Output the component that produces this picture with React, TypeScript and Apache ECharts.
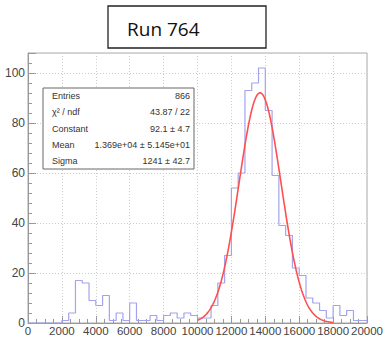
import React, { useEffect, useRef } from "react";
import * as echarts from "echarts";

const binWidth = 400;
const binStart = 0;
const counts = [
  0, 0, 0, 0, 0, 1, 4, 17, 16, 9,
  7, 11, 1, 4, 1, 8, 1, 1, 3, 1,
  3, 4, 2, 4, 3, 2, 2, 7, 16, 27,
  54, 60, 93, 96, 102, 85, 59, 39, 35, 22,
  19, 10, 8, 5, 2, 7, 3, 5, 1, 1,
];

const fitConstant = 92.1;
const fitMean = 13690;
const fitSigma = 1241;
const fitRange = [10000, 18000];

const statLabels = ["Entries", "χ² / ndf", "Constant", "Mean", "Sigma"];
const statValues = ["866", "43.87 / 22", "92.1 ± 4.7", "1.369e+04 ± 5.145e+01", "1241 ± 42.7"];

const title = "Run 764";

export default function App() {
  const ref = useRef<HTMLDivElement>(null);
  useEffect(() => {
    if (!ref.current) return;
    const chart = echarts.init(ref.current, undefined, { renderer: "svg" });

    const histPts: number[][] = counts.map((c, i) => [binStart + i * binWidth, c]);
    histPts.push([binStart + counts.length * binWidth, counts[counts.length - 1]]);

    const fitPts: number[][] = [];
    for (let x = fitRange[0]; x <= fitRange[1]; x += 50) {
      const z = (x - fitMean) / fitSigma;
      fitPts.push([x, fitConstant * Math.exp(-0.5 * z * z)]);
    }

    const font = "'Liberation Sans', Helvetica, Arial, sans-serif";
    const boxX = 43, boxY = 88, boxW = 151, boxH = 81;
    const rowH = boxH / statLabels.length;
    const statGraphics: any[] = [
      {
        type: "rect",
        shape: { x: boxX, y: boxY, width: boxW, height: boxH },
        style: { fill: "#fff", stroke: "#666", lineWidth: 1 },
        z: 100,
      },
    ];
    statLabels.forEach((lab, i) => {
      const cy = boxY + rowH * (i + 0.5);
      statGraphics.push({
        type: "text",
        x: boxX + 9,
        y: cy,
        z: 101,
        style: {
          text: lab, fill: "#333", fontSize: 9, fontFamily: font,
          align: "left", textAlign: "left", verticalAlign: "middle", textVerticalAlign: "middle",
        },
      });
      statGraphics.push({
        type: "text",
        x: boxX + boxW - 4,
        y: cy,
        z: 101,
        style: {
          text: statValues[i], fill: "#333", fontSize: 9, fontFamily: font,
          align: "right", textAlign: "right", verticalAlign: "middle", textVerticalAlign: "middle",
        },
      });
    });

    chart.setOption({
      animation: false,
      backgroundColor: "#fff",
      grid: {
        left: 28, top: 53, width: 340, height: 271,
        show: true, borderColor: "#aaa", borderWidth: 1, backgroundColor: "transparent",
      },
      xAxis: {
        type: "value", min: 0, max: 20000, interval: 2000,
        axisLine: { show: true, onZero: false, lineStyle: { color: "#999", width: 1 } },
        axisTick: { show: true, inside: true, length: 7, lineStyle: { color: "#999" } },
        minorTick: { show: true, splitNumber: 4, length: 4, lineStyle: { color: "#999" } },
        axisLabel: {
          color: "#444", fontSize: 11.5, fontFamily: font, margin: 2, hideOverlap: false,
          showMinLabel: true, showMaxLabel: true,
          formatter: (v: number) => String(v),
        },
        splitLine: { show: true, lineStyle: { color: "#ccc", type: [1, 2], width: 1 } },
      },
      yAxis: {
        type: "value", min: 0, max: 108, interval: 20,
        axisLine: { show: true, lineStyle: { color: "#999", width: 1 } },
        axisTick: { show: true, inside: true, length: 8, lineStyle: { color: "#999" } },
        minorTick: { show: true, splitNumber: 5, length: 4, lineStyle: { color: "#999" } },
        axisLabel: {
          color: "#444", fontSize: 12, fontFamily: font, margin: 3, showMaxLabel: false,
          formatter: (v: number) => (v % 20 === 0 ? String(v) : ""),
        },
        splitLine: { show: true, lineStyle: { color: "#ccc", type: [1, 2], width: 1 } },
      },
      series: [
        {
          type: "line", data: histPts, step: "end", symbol: "none",
          lineStyle: { color: "#a3a3ee", width: 1.2 }, z: 2,
        },
        {
          type: "line", data: fitPts, symbol: "none", smooth: false,
          lineStyle: { color: "#ff4f4f", width: 1.6 }, z: 3,
        },
      ],
      graphic: [
        ...statGraphics,
        {
          type: "rect",
          shape: { x: 108, y: 6, width: 158, height: 42 },
          style: { fill: "#fff", stroke: "#222", lineWidth: 1.3 },
          z: 100,
        },
        {
          type: "text",
          x: 127, y: 29, z: 101,
          style: {
            text: title, fill: "#111", fontSize: 19, fontFamily: "'Open Sans', sans-serif",
            align: "left", textAlign: "left", verticalAlign: "middle", textVerticalAlign: "middle",
          },
        },
      ],
    });
    return () => chart.dispose();
  }, []);
  return (
    <div
      ref={ref}
      style={{ position: "fixed", left: 0, top: 0, width: 386, height: 337, background: "#fff" }}
    />
  );
}
